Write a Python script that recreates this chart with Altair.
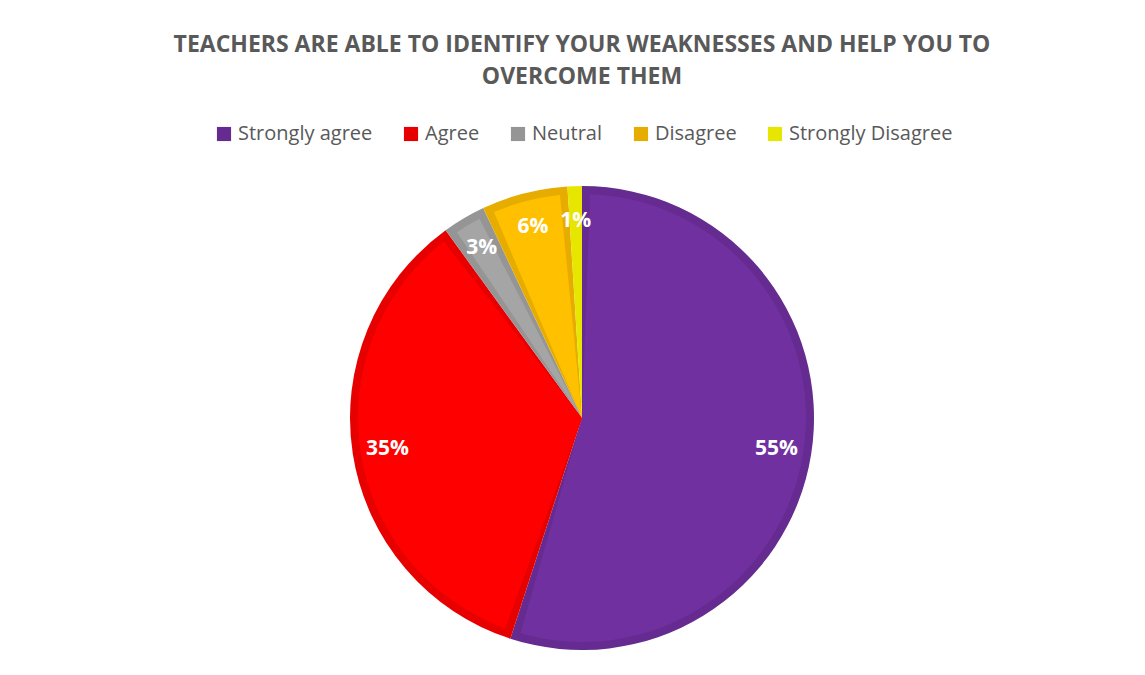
import altair as alt
import pandas as pd

categories = ["Strongly agree", "Agree", "Neutral", "Disagree", "Strongly Disagree"]
values = [55, 35, 3, 6, 1]
edge_colors = ["#652B90", "#E60000", "#959595", "#E6AD00", "#E6E600"]
fill_colors = ["#7030A0", "#FF0000", "#A5A5A5", "#FFC000", "#FFFF00"]
title_lines = ["TEACHERS ARE ABLE TO IDENTIFY YOUR WEAKNESSES AND HELP YOU TO",
               "OVERCOME THEM"]

df = pd.DataFrame({"cat": categories, "value": values, "idx": list(range(len(values)))})

W, H = 1129, 659
CX, CY = 574, 410
R = 232
BORDER = 8

theta = alt.Theta("value:Q", stack=True)
order = alt.Order("idx:Q")

base = alt.Chart(df)

outer = base.mark_arc(outerRadius=R).encode(
    theta=theta,
    order=order,
    color=alt.Color(
        "cat:N",
        scale=alt.Scale(domain=categories, range=edge_colors),
        sort=categories,
        legend=alt.Legend(
            title=None,
            orient="none",
            direction="horizontal",
            legendX=206,
            legendY=116,
            symbolType="square",
            symbolSize=200,
            symbolStrokeWidth=0,
            symbolOpacity=1,
            labelFont="Open Sans",
            labelFontSize=20,
            labelColor="#595959",
            labelOffset=4,
            columnPadding=28,
            labelLimit=300,
        ),
    ),
    x=alt.value(CX),
    y=alt.value(CY),
)

pad = 2 * BORDER / (R - BORDER)
inner = base.mark_arc(outerRadius=R - BORDER, padAngle=pad).encode(
    theta=theta,
    order=order,
    color=alt.Color("cat:N", scale=alt.Scale(domain=categories, range=fill_colors), legend=None),
    x=alt.value(CX),
    y=alt.value(CY),
)

labels = base.transform_calculate(label="datum.value + '%'").mark_text(
    radius=197, font="Open Sans", fontSize=21, fontWeight="bold", color="white"
).encode(
    theta=theta,
    order=order,
    detail="cat:N",
    text="label:N",
    x=alt.value(CX),
    y=alt.value(CY),
)

title = alt.Chart(pd.DataFrame({"t": [0]})).mark_text(
    text=title_lines,
    font="Open Sans",
    fontSize=23,
    fontWeight="bold",
    color="#595959",
    lineHeight=32,
    baseline="middle",
    align="center",
).encode(x=alt.value(CX), y=alt.value(37))

chart = alt.layer(outer, inner, labels, title).resolve_scale(color="independent").properties(
    width=W, height=H, autosize=alt.AutoSizeParams(type="none"), padding=0,
    background="white",
).configure_view(stroke=None)

chart.save("out.html", embed_options={"renderer": "svg", "actions": False})
